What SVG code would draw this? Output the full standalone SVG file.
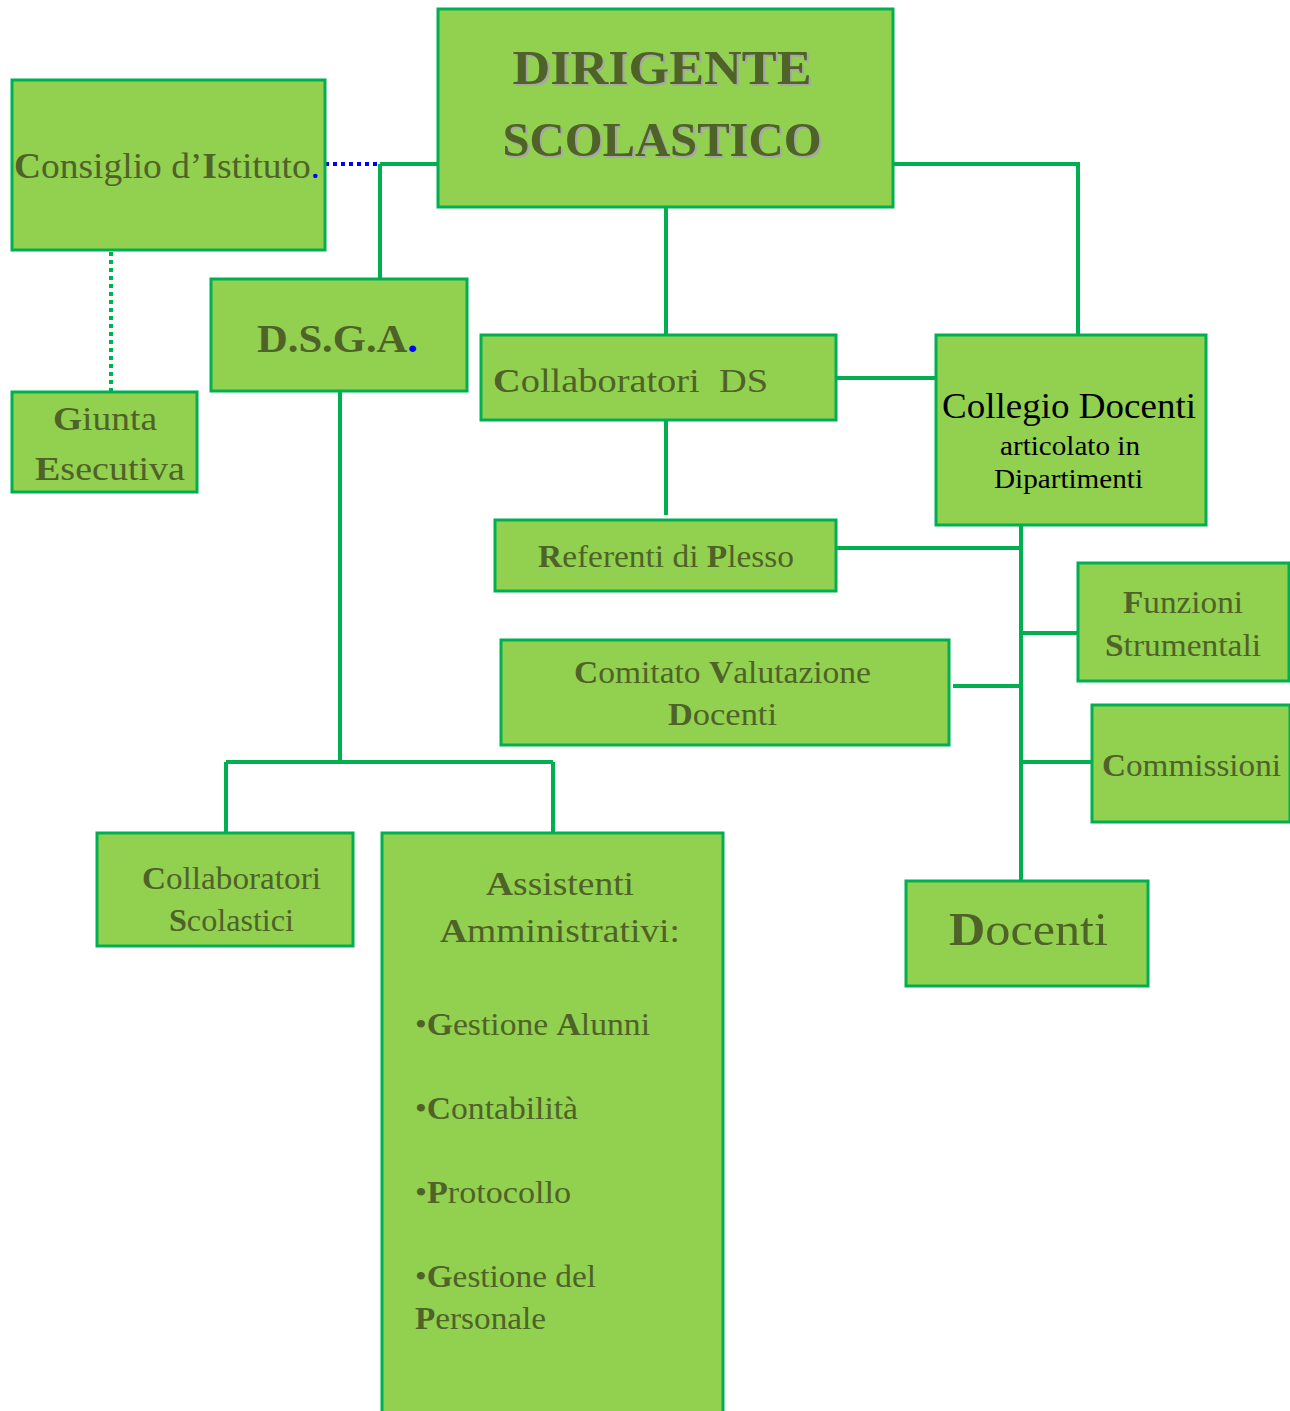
<svg xmlns="http://www.w3.org/2000/svg" width="1290" height="1411" viewBox="0 0 1290 1411">
<style>
.box{fill:#92D050;stroke:#00B050;stroke-width:3}
.t{font-family:"Liberation Serif",serif;fill:#4F6228}
.b{font-weight:bold}
.k{font-family:"Liberation Serif",serif;fill:#000}
.c{fill:none;stroke:#00B050;stroke-width:4}
</style>
<rect width="1290" height="1411" fill="#fff"/>
<g id="connectors">
<path class="c" d="M380 164H438M380 164V279"/>
<path d="M325 164H380" stroke="#0000FF" stroke-width="4" stroke-dasharray="4 4" fill="none"/>
<path d="M111 252V392" stroke="#00B050" stroke-width="4" stroke-dasharray="4 4" fill="none"/>
<path class="c" d="M893 164H1078V335"/>
<path class="c" d="M666 207V335"/>
<path class="c" d="M836 378H936"/>
<path class="c" d="M666 420V515"/>
<path class="c" d="M1021 525V881"/>
<path class="c" d="M836 548H1021"/>
<path class="c" d="M1021 633H1078"/>
<path class="c" d="M953 686H1021"/>
<path class="c" d="M1021 762H1092"/>
<path class="c" d="M340 391V762M226 762H553M226 762V833M553 762V833"/>
</g>
<g id="dirigente">
<rect class="box" x="438" y="9" width="455" height="198"/>
<g class="t b" font-size="48" text-anchor="middle" lengthAdjust="spacingAndGlyphs">
<text x="664" y="86" fill="#A6A6A6" textLength="299" lengthAdjust="spacingAndGlyphs">DIRIGENTE</text>
<text x="662" y="84" textLength="299" lengthAdjust="spacingAndGlyphs">DIRIGENTE</text>
<text x="664" y="158" fill="#A6A6A6" textLength="319" lengthAdjust="spacingAndGlyphs">SCOLASTICO</text>
<text x="662" y="156" textLength="319" lengthAdjust="spacingAndGlyphs">SCOLASTICO</text>
</g>
</g>
<g id="consiglio">
<rect class="box" x="12" y="80" width="313" height="170"/>
<text class="t" x="14" y="178" font-size="36" textLength="306" lengthAdjust="spacingAndGlyphs"><tspan class="b">C</tspan>onsiglio d’<tspan class="b">I</tspan>stituto<tspan fill="#0000FF">.</tspan></text>
</g>
<g id="giunta">
<rect class="box" x="12" y="392" width="185" height="100"/>
<text class="t" x="53" y="430" font-size="33" textLength="104" lengthAdjust="spacingAndGlyphs"><tspan class="b">G</tspan>iunta</text>
<text class="t" x="35" y="480" font-size="33" textLength="150" lengthAdjust="spacingAndGlyphs"><tspan class="b">E</tspan>secutiva</text>
</g>
<g id="dsga">
<rect class="box" x="211" y="279" width="256" height="112"/>
<text class="t b" x="257" y="352" font-size="41" textLength="161" lengthAdjust="spacingAndGlyphs">D.S.G.A<tspan fill="#0000FF">.</tspan></text>
</g>
<g id="collaboratori-ds">
<rect class="box" x="481" y="335" width="355" height="85"/>
<text class="t" x="493" y="392" font-size="34" xml:space="preserve" textLength="275" lengthAdjust="spacingAndGlyphs"><tspan class="b">C</tspan>ollaboratori  DS</text>
</g>
<g id="collegio">
<rect class="box" x="936" y="335" width="270" height="190"/>
<text class="k" x="942" y="418" font-size="36" textLength="254" lengthAdjust="spacingAndGlyphs">Collegio Docenti</text>
<text class="k" x="1000" y="455" font-size="27" textLength="140" lengthAdjust="spacingAndGlyphs">articolato in</text>
<text class="k" x="994" y="488" font-size="27" textLength="149" lengthAdjust="spacingAndGlyphs">Dipartimenti</text>
</g>
<g id="referenti">
<rect class="box" x="495" y="520" width="341" height="71"/>
<text class="t" x="538" y="567" font-size="31" textLength="256" lengthAdjust="spacingAndGlyphs"><tspan class="b">R</tspan>eferenti di <tspan class="b">P</tspan>lesso</text>
</g>
<g id="funzioni">
<rect class="box" x="1078" y="563" width="211" height="118"/>
<text class="t" x="1123" y="613" font-size="31" textLength="120" lengthAdjust="spacingAndGlyphs"><tspan class="b">F</tspan>unzioni</text>
<text class="t" x="1105" y="656" font-size="31" textLength="156" lengthAdjust="spacingAndGlyphs"><tspan class="b">S</tspan>trumentali</text>
</g>
<g id="comitato">
<rect class="box" x="501" y="640" width="448" height="105"/>
<text class="t" x="574" y="683" font-size="31" textLength="297" lengthAdjust="spacingAndGlyphs"><tspan class="b">C</tspan>omitato <tspan class="b">V</tspan>alutazione</text>
<text class="t" x="668" y="725" font-size="31" textLength="109" lengthAdjust="spacingAndGlyphs"><tspan class="b">D</tspan>ocenti</text>
</g>
<g id="commissioni">
<rect class="box" x="1092" y="705" width="198" height="117"/>
<text class="t" x="1102" y="776" font-size="31" textLength="179" lengthAdjust="spacingAndGlyphs"><tspan class="b">C</tspan>ommissioni</text>
</g>
<g id="docenti">
<rect class="box" x="906" y="881" width="242" height="105"/>
<text class="t" x="949" y="945" font-size="46" textLength="159" lengthAdjust="spacingAndGlyphs"><tspan class="b">D</tspan>ocenti</text>
</g>
<g id="collaboratori-scolastici">
<rect class="box" x="97" y="833" width="256" height="113"/>
<text class="t" x="142" y="889" font-size="31" textLength="179" lengthAdjust="spacingAndGlyphs"><tspan class="b">C</tspan>ollaboratori</text>
<text class="t" x="169" y="931" font-size="31" textLength="125" lengthAdjust="spacingAndGlyphs"><tspan class="b">S</tspan>colastici</text>
</g>
<g id="assistenti">
<rect class="box" x="382" y="833" width="341" height="590"/>
<text class="t" x="486" y="895" font-size="34" textLength="148" lengthAdjust="spacingAndGlyphs"><tspan class="b">A</tspan>ssistenti</text>
<text class="t" x="440" y="942" font-size="34" textLength="240" lengthAdjust="spacingAndGlyphs"><tspan class="b">A</tspan>mministrativi:</text>
<text class="t" x="415" y="1035" font-size="31" textLength="235" lengthAdjust="spacingAndGlyphs">•<tspan class="b">G</tspan>estione <tspan class="b">A</tspan>lunni</text>
<text class="t" x="415" y="1119" font-size="31" textLength="163" lengthAdjust="spacingAndGlyphs">•<tspan class="b">C</tspan>ontabilità</text>
<text class="t" x="415" y="1203" font-size="31" textLength="156" lengthAdjust="spacingAndGlyphs">•<tspan class="b">P</tspan>rotocollo</text>
<text class="t" x="415" y="1287" font-size="31" textLength="181" lengthAdjust="spacingAndGlyphs">•<tspan class="b">G</tspan>estione del</text>
<text class="t" x="415" y="1329" font-size="31" textLength="131" lengthAdjust="spacingAndGlyphs"><tspan class="b">P</tspan>ersonale</text>
</g>
</svg>
